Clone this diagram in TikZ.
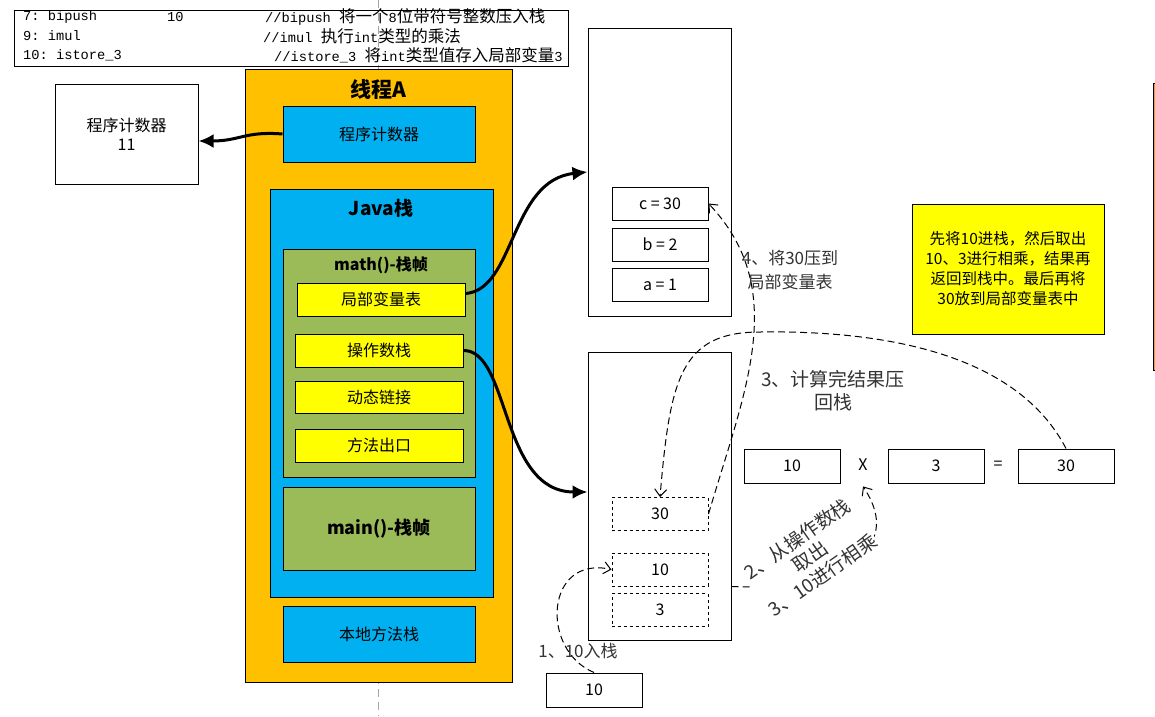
\documentclass[tikz,border=0pt]{standalone}
\usepackage{fontspec}
\setmainfont{Noto Sans CJK SC}
\setmonofont{Liberation Mono}
\newfontfamily\zhfont{Noto Sans CJK SC}
\newcommand{\zh}[1]{{\zhfont\fontsize{16.5}{18}\selectfont #1}}
\usetikzlibrary{arrows.meta}
\definecolor{threadorange}{HTML}{FFC000}
\definecolor{areablue}{HTML}{00B0F0}
\definecolor{framegreen}{HTML}{9BBB59}
\definecolor{slotyellow}{HTML}{FFFF00}
\definecolor{edgeorange}{HTML}{F79646}

\begin{document}
\begin{tikzpicture}[x=1pt, y=-1pt, >={Latex[length=15pt,width=14pt]},
    every node/.append style={font=\fontsize{16}{19}\selectfont},
    box/.style={draw, line width=1pt, inner sep=0pt},
    slot/.style={box, minimum width=96pt, minimum height=33pt},
    ybox/.style={box, fill=slotyellow, minimum width=168pt, minimum height=33pt},
    codeline/.style={anchor=west, inner sep=0pt, font=\ttfamily\fontsize{13.7}{16}\selectfont},
    flow/.style={line width=1pt, dash pattern=on 7pt off 4pt, -{Straight Barb[length=7pt,width=12pt]}},
    bus/.style={line width=3pt, ->},
    lbl/.style={text=black!80, align=center}]
    \useasboundingbox (0,0) rectangle (1155,716);
    \draw[black!35, line width=1pt, dash pattern=on 8pt off 5pt] (378,0) -- (378,716);

    % bytecode
    \node[box, anchor=north west, minimum width=554pt, minimum height=56pt] (code) at (14,10) {};
    \node[codeline] (op7) at (23,17) {7: bipush};
    \node[codeline] (arg7) at (167,17) {10};
    \node[codeline] (cm7) at (265,17) {//bipush \zh{将一个}8\zh{位带符号整数压入栈}};
    \node[codeline] (op9) at (23,36) {9: imul};
    \node[codeline] (cm9) at (263,36) {//imul \zh{执行}int\zh{类型的乘法}};
    \node[codeline] (op10) at (23,55) {10: istore\_3};
    \node[codeline] (cm10) at (274,55) {//istore\_3 \zh{将}int\zh{类型值存入局部变量}3};

    % thread A
    \node[box, fill=threadorange, minimum width=267pt, minimum height=613pt] (thread) at (378.5,375.5) {};
    \node[font=\bfseries\fontsize{21}{24}\selectfont] (titleA) at (378,89) {线程A};
    \node[box, fill=areablue, minimum width=192pt, minimum height=56pt] (pcA) at (379,134) {程序计数器};
    \node[box, fill=areablue, minimum width=223pt, minimum height=408pt] (jstack) at (381.5,393) {};
    \node[font=\bfseries\fontsize{19}{22}\selectfont] (titleJ) at (381,208) {Java栈};
    \node[box, fill=framegreen, minimum width=192pt, minimum height=228pt] (mathf) at (379,363) {};
    \node[font=\bfseries\fontsize{16}{19}\selectfont] (titleM) at (381,265) {math()-栈帧};
    \node[ybox] (lvt) at (381,299.5) {局部变量表};
    \node[ybox] (ops) at (379,350.5) {操作数栈};
    \node[ybox, minimum height=32pt] (dyn) at (379,397) {动态链接};
    \node[ybox] (mexit) at (379,445.5) {方法出口};
    \node[box, fill=framegreen, minimum width=192pt, minimum height=83pt,
          font=\bfseries\fontsize{18}{21}\selectfont] (mainf) at (379,528.5) {main()-栈帧};
    \node[box, fill=areablue, minimum width=192pt, minimum height=56pt] (native) at (379,634) {本地方法栈};

    % program counter
    \node[box, minimum width=143pt, minimum height=100pt, align=center] (pcbox) at (126.5,134) {程序计数器\\11};
    \draw[bus] (pcA.west) .. controls (245,131) and (240,141) .. ([yshift=-7pt]pcbox.east);

    % local variable table
    \node[box, minimum width=143pt, minimum height=288pt] (lvbox) at (659.5,172) {};
    \node[slot] (cvar) at (660,203.5) {c = 30};
    \node[slot] (bvar) at (660,244.5) {b = 2};
    \node[slot] (avar) at (660,284.5) {a = 1};
    \draw[bus] ([yshift=6pt]lvt.east) .. controls (515,290) and (510,180) .. (lvbox.west);

    % operand stack
    \node[box, minimum width=143pt, minimum height=288pt] (opbox) at (659.5,496) {};
    \node[slot, dashed] (s30) at (660,514) {30};
    \node[slot, dashed] (s10) at (660,569.5) {10};
    \node[slot, dashed] (s3) at (660,610) {3};
    \draw[bus] (ops.east) .. controls (510,350) and (500,492) .. ([yshift=4pt]opbox.west);

    % multiplication
    \node[slot, minimum height=34pt] (n10) at (792,466) {10};
    \node (times) at (863,465) {X};
    \node[slot, minimum height=34pt] (n3) at (936,466) {3};
    \node (eq) at (998,465) {=};
    \node[slot, minimum height=34pt] (n30) at (1066,466) {30};
    \node[slot, minimum height=34pt] (in10) at (594,690) {10};

    % steps
    \draw[flow] (in10.north) .. controls (540,650) and (545,555) .. (s10.west);
    \node[lbl, font=\fontsize{17}{20}\selectfont] (step1) at (578,651) {1、10入栈};
    \draw[flow] (opbox.east |- s10.south) .. controls (800,590) and (915,565) .. ([yshift=-12pt]times.south);
    \node[lbl, fill=white, inner sep=1pt, rotate=35, font=\fontsize{19}{22}\selectfont] (step2) at (810,557)
        {2、从操作数栈\\取出\\3、10进行相乘};
    \draw[flow] (n30.north) .. controls (1020,360) and (900,330) .. (760,332)
        .. controls (680,332) and (670,380) .. (s30.north);
    \node[lbl, font=\fontsize{19}{23}\selectfont] (step3) at (833,391) {3、计算完结果压\\回栈};
    \draw[flow] (s30.east) .. controls (745,390) and (790,290) .. (cvar.east);
    \node[lbl, font=\fontsize{17}{24}\selectfont] (step4) at (790,270) {4、将30压到\\局部变量表};

    % note
    \node[box, fill=slotyellow, minimum width=192pt, minimum height=130pt, align=center,
          font=\fontsize{15.5}{20}\selectfont] (note) at (1008,269)
        {先将10进栈，然后取出\\10、3进行相乘，结果再\\返回到栈中。最后再将\\30放到局部变量表中};
    \draw[fill=edgeorange, line width=1pt] (1153,83) rectangle (1170,370);
\end{tikzpicture}
\end{document}
